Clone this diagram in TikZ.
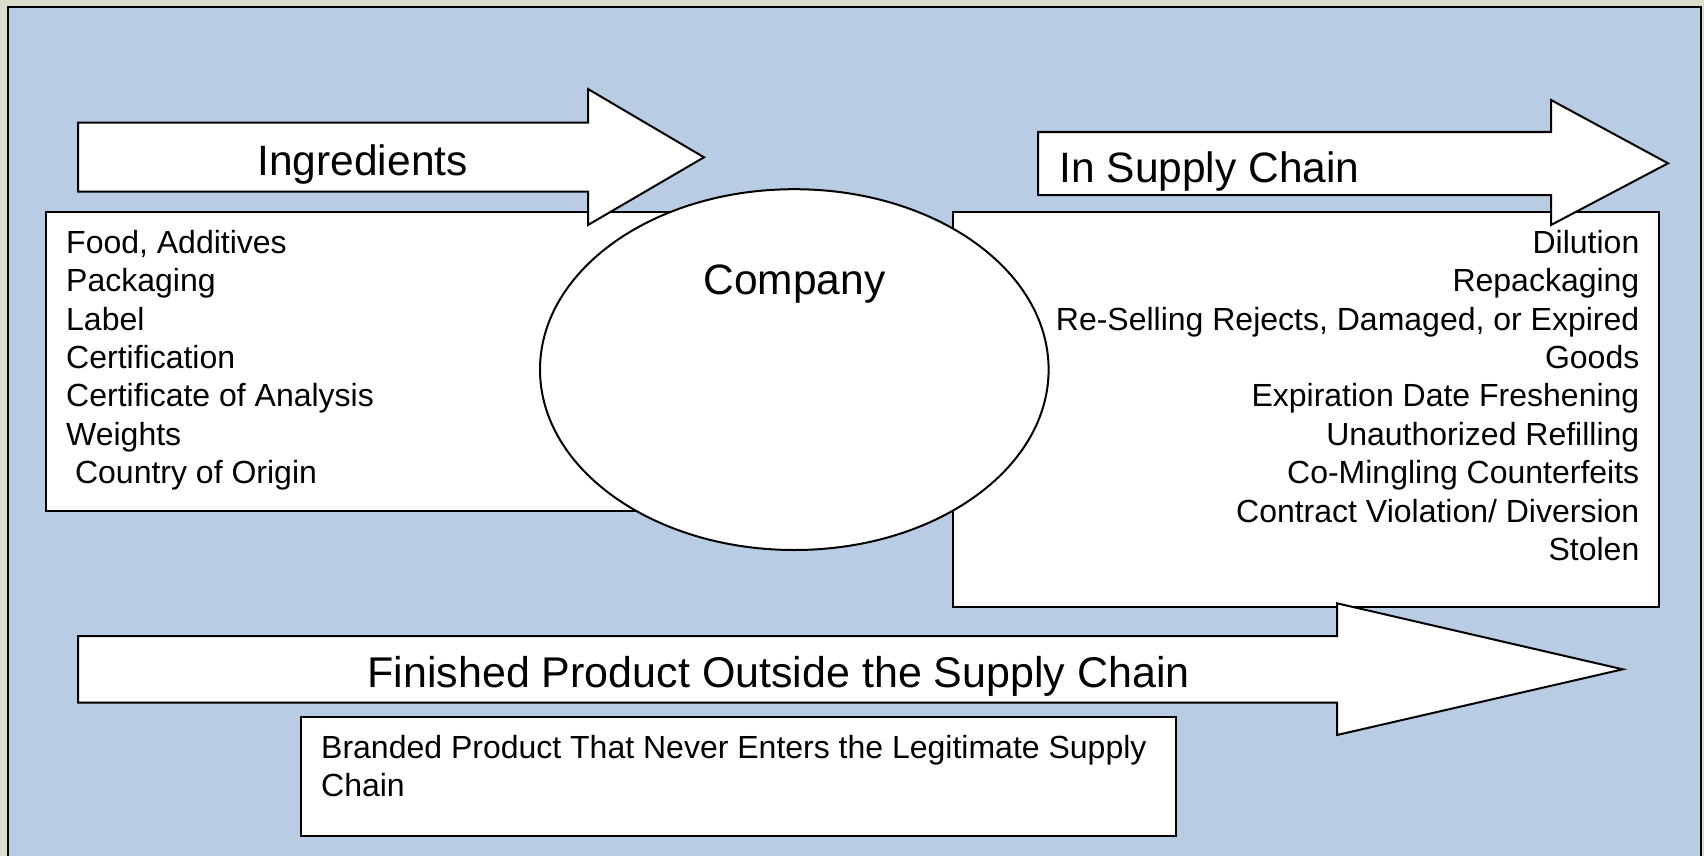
\documentclass[tikz,border=0pt]{standalone}
\usepackage{fontspec}
\setmainfont{Liberation Sans}
\usetikzlibrary{shapes.geometric}

\definecolor{panelblue}{HTML}{B8CCE4}
\definecolor{framebeige}{HTML}{DDDDCD}

\tikzset{
  outline/.style={draw=black, line width=2pt, fill=white},
  titletext/.style={font=\fontsize{42.5}{50}\selectfont, inner sep=0pt},
  itemtext/.style={font=\fontsize{32}{38}\selectfont, inner sep=0pt},
}

\begin{document}
\begin{tikzpicture}[x=1pt, y=-1pt]
        \useasboundingbox (0,0) rectangle (1704,856);
        % frame and panel
        \fill[framebeige] (0,0) rectangle (1704,856);
        \draw[fill=panelblue, line width=2pt] (7.5,7.5) rectangle (1700.5,880);

        % list boxes
        \draw[outline] (46,212) rectangle (740,511);
        \draw[outline] (953,212) rectangle (1659,606.7);

        \node[outline, ellipse, minimum width=508.6, minimum height=360.8, inner sep=0pt] (company) at (794.3,369.6) {};
        \node[titletext, anchor=base] (companylabel) at (794.4,294.3) {Company};

        % block arrows
        \draw[outline] (78,122.7) -- (588,122.7) -- (588,89) -- (704,157.3)
              -- (588,225) -- (588,191.7) -- (78,191.7) -- cycle;
        \draw[outline] (1038,132) -- (1551,132) -- (1551,100) -- (1668,163.3)
              -- (1551,225) -- (1551,195) -- (1038,195) -- cycle;
        \draw[outline] (78,636) -- (1337,636) -- (1337,603.3) -- (1622.7,669.3)
              -- (1337,735) -- (1337,702.7) -- (78,702.7) -- cycle;

        \node[titletext, anchor=base] (ingredients) at (362.6,175.5) {Ingredients};
        \node[titletext, anchor=base west] (inchain) at (1059.3,182.7) {In Supply Chain};
        \node[titletext, font=\fontsize{43}{50}\selectfont, anchor=base] (outside) at (778.6,687) {Finished Product Outside the Supply Chain};

        % ingredient list
        \foreach \t [count=\i] in {{Food, Additives}, Packaging, Label, Certification,
              Certificate of Analysis, Weights, {\ Country of Origin}}
          \node[itemtext, anchor=base west] (ing\i) at (66,{253.3+38.4*(\i-1)}) {\t};

        % in-chain list
        \foreach \t [count=\i] in {Dilution, Repackaging, {Re-Selling Rejects, Damaged, or Expired},
              Goods, Expiration Date Freshening, Unauthorized Refilling,
              Co-Mingling Counterfeits, Contract Violation/ Diversion, Stolen}
          \node[itemtext, anchor=base east] (chain\i) at (1639.5,{253.3+38.4*(\i-1)}) {\t};

        % branded box
        \draw[outline] (301,717.3) rectangle (1176,835.7);
        \node[itemtext, anchor=base west] (branded1) at (321,758.5) {Branded Product That Never Enters the Legitimate Supply};
        \node[itemtext, anchor=base west] (branded2) at (321,796.5) {Chain};
      \end{tikzpicture}
\end{document}
